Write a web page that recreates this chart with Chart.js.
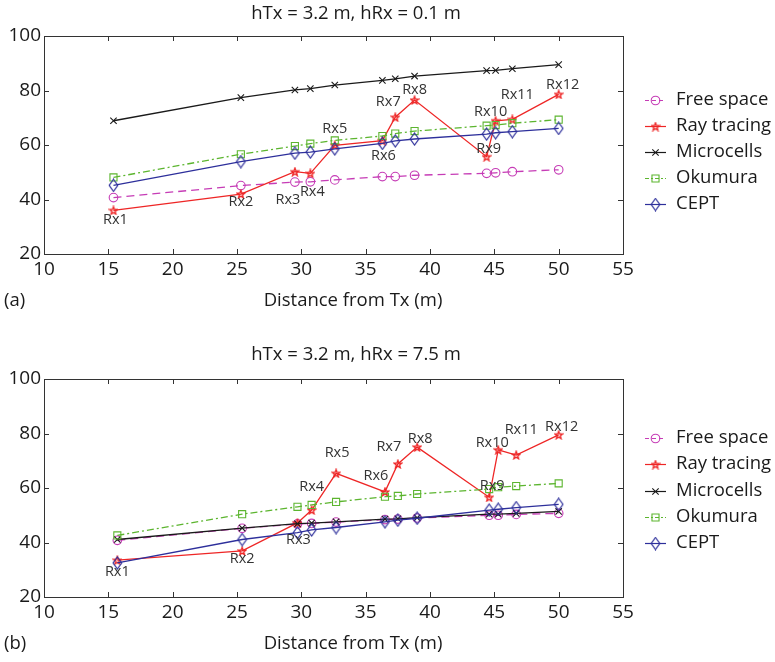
<!DOCTYPE html>
<html>
<head>
<meta charset="utf-8">
<script src="https://cdn.jsdelivr.net/npm/chart.js@4.4.1/dist/chart.umd.min.js"></script>
<style>
  html, body { margin: 0; padding: 0; background: #fff; }
  #wrap { position: relative; width: 775px; height: 662px; }
  canvas { position: absolute; left: 0; }
</style>
</head>
<body>
<div id="wrap">
  <canvas id="chartA" width="775" height="331" style="top:0"></canvas>
  <canvas id="chartB" width="775" height="331" style="top:331px"></canvas>
</div>
<script>
// series names, ticks and labels
const seriesNames = ['Free space', 'Ray tracing', 'Microcells', 'Okumura', 'CEPT'];
const rxLabels = ['Rx1', 'Rx2', 'Rx3', 'Rx4', 'Rx5', 'Rx6', 'Rx7', 'Rx8', 'Rx9', 'Rx10', 'Rx11', 'Rx12'];
const xTicks = [10, 15, 20, 25, 30, 35, 40, 45, 50, 55];
const yTicks = [20, 40, 60, 80, 100];

// (a) hTx = 3.2 m, hRx = 0.1 m
const distA = [15.4, 25.3, 29.5, 30.7, 32.6, 36.3, 37.3, 38.8, 44.4, 45.1, 46.4, 50.0];
const freeA = [40.7, 45.1, 46.4, 46.5, 47.2, 48.4, 48.4, 48.9, 49.6, 49.8, 50.2, 50.9];
const rayA = [36.0, 42.0, 50.2, 49.6, 59.9, 61.6, 70.2, 76.5, 55.7, 68.9, 69.4, 78.6];
const microA = [68.9, 77.4, 80.2, 80.7, 82.0, 83.7, 84.3, 85.3, 87.3, 87.4, 88.0, 89.5];
const okuA = [48.1, 56.6, 59.6, 60.5, 61.7, 63.3, 64.2, 65.1, 67.1, 67.3, 68.0, 69.3];
const ceptA = [45.2, 53.9, 57.0, 57.4, 58.6, 60.6, 61.5, 62.2, 64.0, 64.5, 64.9, 66.1];

// (b) hTx = 3.2 m, hRx = 7.5 m
const distB = [15.7, 25.4, 29.7, 30.8, 32.7, 36.5, 37.5, 39.0, 44.6, 45.3, 46.7, 50.0];
const freeB = [40.8, 45.2, 46.8, 47.0, 47.5, 48.4, 48.6, 49.0, 50.0, 50.0, 50.3, 50.7];
const rayB = [33.5, 36.9, 47.2, 51.9, 65.4, 58.6, 68.8, 75.0, 56.6, 74.0, 72.1, 79.5];
const microB = [41.1, 45.3, 46.9, 47.1, 47.6, 48.6, 48.7, 49.1, 50.4, 50.4, 50.7, 51.4];
const okuB = [42.6, 50.4, 53.1, 53.8, 54.9, 56.8, 57.1, 57.8, 59.6, 60.3, 60.7, 61.7];
const ceptB = [32.5, 41.1, 43.6, 44.6, 45.5, 47.6, 48.2, 48.9, 51.9, 52.2, 52.8, 54.0];

// label offsets (px) for the Rx annotations
const offA = [[2, 9], [0, 8], [-7, 28], [2, 19], [0, -16], [1, 15], [-7, -15], [0, -10], [2, -8], [-5, -9], [5, -25], [4, -9]];
const offB = [[0, 12], [0, 8], [1, 17], [0, -23], [1, -20], [-9, -16], [-9, -17], [3, -8], [3, -11], [-6, -7], [5, -25], [3, -8]];

const FONT = "'Open Sans', 'Noto Sans', sans-serif";
const TEXT = '#1a1a1a';
const colors = {
    free: '#c63cb6',
    ray: '#ee2626',
    micro: '#1a1a1a',
    oku: '#5cb52f',
    cept: '#2d2f9b'
};

function markerCanvas(w, h, draw) {
    const c = document.createElement('canvas');
    c.width = w;
    c.height = h;
    draw(c.getContext('2d'));
    return c;
}

// pentagram for ray tracing
const starImg = markerCanvas(10, 10, ctx => {
    ctx.beginPath();
    for (let i = 0; i < 10; i++) {
        const r = i % 2 === 0 ? 4.1 : 1.7;
        const a = -Math.PI / 2 + i * Math.PI / 5;
        const px = 5 + r * Math.cos(a);
        const py = 5.4 + r * Math.sin(a);
        if (i === 0) ctx.moveTo(px, py); else ctx.lineTo(px, py);
    }
    ctx.closePath();
    ctx.strokeStyle = colors.ray;
    ctx.lineWidth = 1.3;
    ctx.stroke();
});

const diamondImg = markerCanvas(11, 14, ctx => {
    ctx.beginPath();
    ctx.moveTo(5.5, 1);
    ctx.lineTo(9.8, 7);
    ctx.lineTo(5.5, 13);
    ctx.lineTo(1.2, 7);
    ctx.closePath();
    ctx.strokeStyle = colors.cept;
    ctx.lineWidth = 1.2;
    ctx.stroke();
});

const styles = [
    { color: colors.free, pointStyle: 'circle', radius: 4.3, dash: [8, 5], legendDash: [4, 3] },
    { color: colors.ray, pointStyle: starImg, radius: 5, dash: [], legendDash: [] },
    { color: colors.micro, pointStyle: 'crossRot', radius: 4.5, dash: [], legendDash: [] },
    { color: colors.oku, pointStyle: 'rect', radius: 5, dash: [7, 3, 2, 3], legendDash: [4, 2, 2, 2] },
    { color: colors.cept, pointStyle: diamondImg, radius: 5, dash: [], legendDash: [] }
];

function makeDatasets(dist, series) {
    return series.map((vals, i) => ({
        label: seriesNames[i],
        data: dist.map((d, k) => ({ x: d, y: vals[k] })),
        borderColor: styles[i].color,
        backgroundColor: 'rgba(0,0,0,0)',
        borderWidth: 1.3,
        borderDash: styles[i].dash,
        pointStyle: styles[i].pointStyle,
        pointRadius: styles[i].radius,
        pointBorderWidth: 1.1,
        pointBorderColor: styles[i].color,
        pointBackgroundColor: 'rgba(0,0,0,0)',
        tension: 0,
        order: 4 - i
    }));
}

const decor = {
    id: 'decor',
    afterDraw(chart, args, opts) {
        const ctx = chart.ctx;
        const a = chart.chartArea;
        const xs = chart.scales.x;
        const ys = chart.scales.y;
        ctx.save();

        // axes box with inward ticks
        ctx.strokeStyle = '#333';
        ctx.lineWidth = 1;
        ctx.setLineDash([]);
        ctx.strokeRect(Math.round(a.left) + 0.5, Math.round(a.top) + 0.5,
            Math.round(a.right - a.left), Math.round(a.bottom - a.top));
        ctx.beginPath();
        xTicks.forEach(v => {
            const px = Math.round(xs.getPixelForValue(v)) + 0.5;
            ctx.moveTo(px, a.bottom); ctx.lineTo(px, a.bottom - 5);
            ctx.moveTo(px, a.top); ctx.lineTo(px, a.top + 5);
        });
        yTicks.forEach(v => {
            const py = Math.round(ys.getPixelForValue(v)) + 0.5;
            ctx.moveTo(a.left, py); ctx.lineTo(a.left + 5, py);
            ctx.moveTo(a.right, py); ctx.lineTo(a.right - 5, py);
        });
        ctx.stroke();

        // title, x label, panel tag
        ctx.fillStyle = TEXT;
        ctx.textBaseline = 'middle';
        ctx.font = '18.5px ' + FONT;
        ctx.textAlign = 'center';
        ctx.fillText(opts.title, 356, opts.titleY);
        ctx.fillText('Distance from Tx (m)', 353, opts.xlabelY);
        ctx.textAlign = 'left';
        ctx.fillText(opts.tag, 4, opts.xlabelY);

        // Rx annotations next to the ray tracing points
        const meta = chart.getDatasetMeta(1);
        ctx.font = '14.5px ' + FONT;
        ctx.fillStyle = '#333';
        ctx.textAlign = 'center';
        meta.data.forEach((pt, i) => {
            const o = opts.offsets[i];
            ctx.fillText(rxLabels[i], pt.x + o[0], pt.y + o[1]);
        });

        // legend
        ctx.font = '18.5px ' + FONT;
        ctx.textAlign = 'left';
        styles.forEach((s, i) => {
            const ly = Math.round(opts.legendY + i * opts.legendStep);
            ctx.strokeStyle = s.color;
            ctx.lineWidth = 1.2;
            ctx.setLineDash(s.legendDash);
            ctx.beginPath();
            ctx.moveTo(645, ly + 0.5);
            ctx.lineTo(666, ly + 0.5);
            ctx.stroke();
            ctx.setLineDash([]);
            ctx.lineWidth = 1.1;
            ctx.fillStyle = 'rgba(0,0,0,0)';
            Chart.helpers.drawPoint(ctx, {
                pointStyle: s.pointStyle, radius: s.radius, borderWidth: 1.1, rotation: 0
            }, 655.5, ly + 0.5);
            ctx.fillStyle = TEXT;
            ctx.fillText(seriesNames[i], 676, ly);
        });
        ctx.restore();
    }
};

function makeChart(id, dist, series, opts) {
    const ctx = document.getElementById(id).getContext('2d');
    return new Chart(ctx, {
        type: 'line',
        data: { datasets: makeDatasets(dist, series) },
        options: {
            responsive: false,
            animation: false,
            devicePixelRatio: 1,
            layout: { padding: { left: 0, right: 152, top: opts.top, bottom: opts.bottom } },
            plugins: {
                legend: { display: false },
                tooltip: { enabled: false },
                decor: opts
            },
            scales: {
                x: {
                    type: 'linear',
                    min: 10,
                    max: 55,
                    afterBuildTicks: scale => { scale.ticks = xTicks.map(v => ({ value: v })); },
                    afterFit: scale => { scale.height = 30; },
                    grid: { display: false, drawTicks: false },
                    border: { display: false },
                    ticks: { color: TEXT, padding: 4, maxRotation: 0, font: { family: FONT, size: 19 } }
                },
                y: {
                    min: 20,
                    max: 100,
                    afterBuildTicks: scale => { scale.ticks = yTicks.map(v => ({ value: v })); },
                    afterFit: scale => { scale.width = 44; },
                    grid: { display: false, drawTicks: false },
                    border: { display: false },
                    ticks: { color: TEXT, padding: 3, font: { family: FONT, size: 19 } }
                }
            }
        },
        plugins: [decor]
    });
}

makeChart('chartA', distA, [freeA, rayA, microA, okuA, ceptA], {
    top: 36, bottom: 47,
    title: 'hTx = 3.2 m, hRx = 0.1 m', titleY: 14,
    xlabelY: 301, tag: '(a)',
    offsets: offA,
    legendY: 100, legendStep: 26
});

makeChart('chartB', distB, [freeB, rayB, microB, okuB, ceptB], {
    top: 48, bottom: 35,
    title: 'hTx = 3.2 m, hRx = 7.5 m', titleY: 24,
    xlabelY: 313, tag: '(b)',
    offsets: offB,
    legendY: 107, legendStep: 26.3
});
</script>
</body>
</html>
